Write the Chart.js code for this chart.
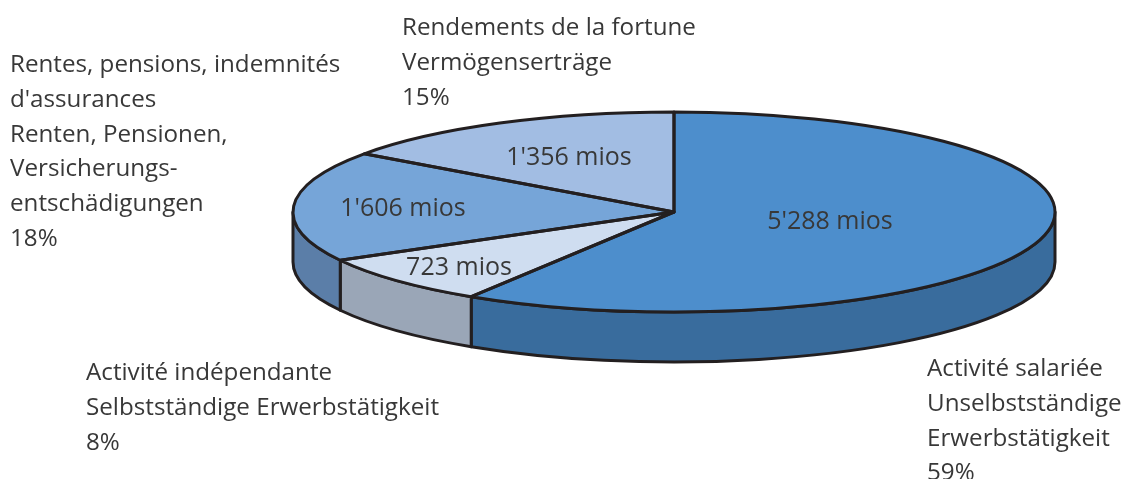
<!DOCTYPE html>
<html>
<head>
<meta charset="utf-8">
<style>
  html, body { margin: 0; padding: 0; background: #fff; overflow: hidden; }
  #wrap { position: relative; width: 1121px; height: 479px; }
</style>
<script src="https://cdn.jsdelivr.net/npm/chart.js@4/dist/chart.umd.min.js"></script>
</head>
<body>
<div id="wrap"><canvas id="pie" width="1121" height="479"></canvas></div>
<script>
// values in millions, clockwise from 12 o'clock
const categories = ['Activité salariée', 'Activité indépendante', 'Rentes, pensions', 'Rendements de la fortune'];
const values = [5288, 723, 1606, 1356];
const valueLabels = ["5'288 mios", '723 mios', "1'606 mios", "1'356 mios"];
const topColors = ['#4d8ecc', '#cfddf0', '#76a5d8', '#a2bde3'];
const sideColors = ['#396c9d', '#9aa6b7', '#5b7ea8', '#7f95b5'];

const outerLabels = [
    ['Rendements de la fortune', 'Vermögenserträge', '15%'],
    ['Rentes, pensions, indemnités', "d'assurances", 'Renten, Pensionen,', 'Versicherungs-', 'entschädigungen', '18%'],
    ['Activité indépendante', 'Selbstständige Erwerbstätigkeit', '8%'],
    ['Activité salariée', 'Unselbstständige', 'Erwerbstätigkeit', '59%']
];

// ellipse of the tilted pie on the page
const CX = 674, CY = 212, RX = 381, RY = 100, DEPTH = 50;
const LINE = '#231f20', TEXT = '#383838';
const VALUE_FONT = '25px "Open Sans"';
const OUTER_FONT = '24.2px "Open Sans"';
const valuePos = [[830, 222], [459, 268], [403, 209], [569, 158]];
const outerPos = [[402, 35], [10, 72], [86, 380], [927, 376]];
const LINE_H = 34.8;

const tilted = {
    id: 'tilted',
    beforeDatasetsDraw(chart) {
        const ctx = chart.ctx;
        const arcs = chart.getDatasetMeta(0).data;
        const a = arcs[0];

        // side wall, only the part of each slice facing the viewer
        ctx.lineWidth = 3;
        ctx.strokeStyle = LINE;
        ctx.lineJoin = 'round';
        arcs.forEach((arc, i) => {
            const from = Math.max(arc.startAngle, 0);
            const to = Math.min(arc.endAngle, Math.PI);
            if (to <= from) return;
            ctx.beginPath();
            ctx.ellipse(CX, CY, RX, RY, 0, from, to);
            ctx.ellipse(CX, CY + DEPTH, RX, RY, 0, to, from, true);
            ctx.closePath();
            ctx.fillStyle = sideColors[i];
            ctx.fill();
            ctx.stroke();
        });

        // squash the library's round pie onto the ellipse
        const sx = RX / a.outerRadius, sy = RY / a.outerRadius;
        ctx.save();
        ctx.transform(sx, 0, 0, sy, CX - sx * a.x, CY - sy * a.y);
    },
    afterDatasetsDraw(chart) {
        const ctx = chart.ctx;
        ctx.restore();

        // outlines are stroked outside the transform to keep an even width
        ctx.lineWidth = 3;
        ctx.strokeStyle = LINE;
        ctx.lineJoin = 'round';
        chart.getDatasetMeta(0).data.forEach(arc => {
            ctx.beginPath();
            ctx.moveTo(CX, CY);
            ctx.ellipse(CX, CY, RX, RY, 0, arc.startAngle, arc.endAngle);
            ctx.closePath();
            ctx.stroke();
        });

        ctx.fillStyle = TEXT;
        ctx.font = VALUE_FONT;
        ctx.textAlign = 'center';
        ctx.textBaseline = 'middle';
        valueLabels.forEach((t, i) => ctx.fillText(t, valuePos[i][0], valuePos[i][1]));

        ctx.font = OUTER_FONT;
        ctx.textAlign = 'left';
        ctx.textBaseline = 'alphabetic';
        outerLabels.forEach((lines, i) => {
            lines.forEach((t, j) => ctx.fillText(t, outerPos[i][0], outerPos[i][1] + j * LINE_H));
        });
    }
};

new Chart(document.getElementById('pie'), {
    type: 'pie',
    data: {
        labels: categories,
        datasets: [{
            data: values,
            backgroundColor: topColors,
            borderWidth: 0,
            clip: false
        }]
    },
    options: {
        responsive: false,
        animation: false,
        events: [],
        plugins: {
            legend: { display: false },
            tooltip: { enabled: false }
        }
    },
    plugins: [tilted]
});
</script>
</body>
</html>
